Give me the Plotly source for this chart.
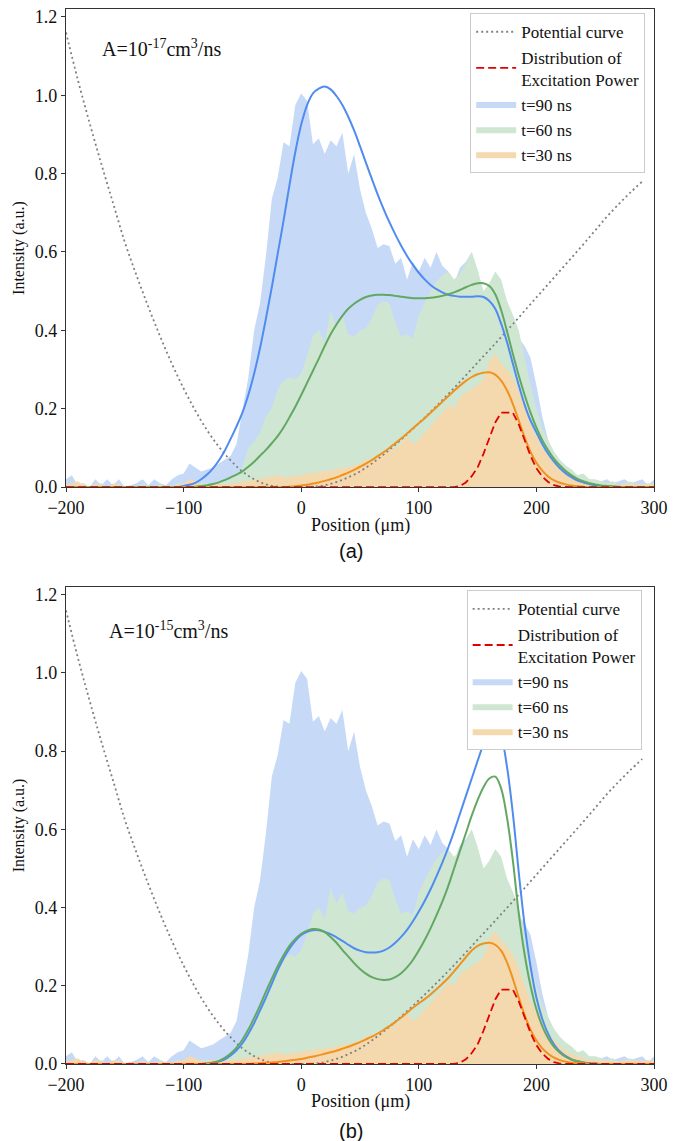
import plotly.graph_objects as go

# ---------------- data ----------------
POSITION = list(range(-200, 305, 5))  # sample positions (um)

# experimental intensity profiles (filled areas) - identical in both panels
EXP_T90 = [0.02, 0.03, 0.005, 0.01, 0.0, 0.02, 0.005, 0.02, 0.005, 0.02,
           0.0, 0.005, 0.01, 0.02, 0.005, 0.02, 0.01, 0.005, 0.02, 0.03,
           0.035, 0.06, 0.05, 0.04, 0.045, 0.05, 0.06, 0.07, 0.08, 0.11,
           0.19, 0.28, 0.40, 0.47, 0.59, 0.735, 0.79, 0.88, 0.87, 0.975,
           1.005, 0.985, 0.875, 0.89, 0.85, 0.885, 0.87, 0.905, 0.80, 0.85,
           0.76, 0.70, 0.66, 0.61, 0.62, 0.615, 0.57, 0.585, 0.53, 0.575,
           0.55, 0.585, 0.56, 0.60, 0.565, 0.55, 0.52, 0.56, 0.575, 0.60,
           0.55, 0.50, 0.50, 0.52, 0.48, 0.44, 0.41, 0.38, 0.36, 0.33,
           0.26, 0.18, 0.12, 0.08, 0.06, 0.05, 0.03, 0.02, 0.015, 0.02,
           0.01, 0.015, 0.02, 0.01, 0.015, 0.02, 0.01, 0.015, 0.02, 0.005,
           0.02]
EXP_T60 = [0.01, 0.0, 0.005, 0.01, 0.0, 0.005, 0.01, 0.0, 0.005, 0.01,
           0.0, 0.005, 0.0, 0.01, 0.005, 0.0, 0.01, 0.005, 0.0, 0.01,
           0.005, 0.01, 0.005, 0.01, 0.01, 0.01, 0.012, 0.015, 0.02, 0.035,
           0.05, 0.10, 0.115, 0.14, 0.18, 0.20, 0.25, 0.27, 0.28, 0.275,
           0.29, 0.335, 0.385, 0.40, 0.37, 0.45, 0.41, 0.44, 0.39, 0.385,
           0.40, 0.405, 0.43, 0.465, 0.475, 0.47, 0.42, 0.385, 0.39, 0.38,
           0.44, 0.47, 0.50, 0.525, 0.54, 0.55, 0.53, 0.545, 0.57, 0.60,
           0.555, 0.50, 0.52, 0.55, 0.53, 0.475, 0.44, 0.40, 0.33, 0.26,
           0.20, 0.15, 0.12, 0.09, 0.07, 0.055, 0.045, 0.03, 0.035, 0.02,
           0.02, 0.015, 0.01, 0.015, 0.005, 0.01, 0.015, 0.005, 0.01, 0.005,
           0.01]
EXP_T30 = [0.005, 0.01, 0.015, 0.005, 0.0, 0.01, 0.005, 0.0, 0.01, 0.005,
           0.0, 0.005, 0.0, 0.005, 0.0, 0.005, 0.0, 0.005, 0.0, 0.005,
           0.01, 0.02, 0.015, 0.005, 0.005, 0.01, 0.01, 0.005, 0.01, 0.01,
           0.015, 0.015, 0.02, 0.02, 0.025, 0.025, 0.03, 0.025, 0.025, 0.03,
           0.03, 0.035, 0.035, 0.04, 0.04, 0.041, 0.045, 0.05, 0.05, 0.055,
           0.06, 0.07, 0.07, 0.08, 0.085, 0.09, 0.10, 0.11, 0.13, 0.11,
           0.12, 0.14, 0.155, 0.176, 0.19, 0.21, 0.20, 0.23, 0.24, 0.25,
           0.26, 0.275, 0.32, 0.34, 0.315, 0.30, 0.28, 0.245, 0.20, 0.16,
           0.13, 0.10, 0.08, 0.06, 0.045, 0.035, 0.025, 0.02, 0.015, 0.01,
           0.01, 0.005, 0.01, 0.005, 0.005, 0.01, 0.005, 0.01, 0.005, 0.01,
           0.005]

# simulated curves, panel (a): A = 1e-17 cm^3/ns
FIT_T90_A = [0]*20 + [
    0.003, 0.006, 0.011, 0.02, 0.032, 0.048, 0.068, 0.093, 0.123, 0.155,
    0.19, 0.235, 0.29, 0.355, 0.43, 0.51, 0.595, 0.68, 0.77, 0.855,
    0.925, 0.975, 1.005, 1.017, 1.022, 1.015, 0.998, 0.975, 0.945, 0.91,
    0.87, 0.828, 0.787, 0.747, 0.71, 0.676, 0.645, 0.616, 0.59, 0.567,
    0.547, 0.53, 0.516, 0.505, 0.497, 0.491, 0.488, 0.486, 0.486, 0.486,
    0.487, 0.485, 0.475, 0.455, 0.417, 0.37, 0.315, 0.26, 0.21, 0.17,
    0.14, 0.11, 0.085, 0.065, 0.048, 0.035, 0.025, 0.017, 0.012, 0.008,
    0.005, 0.003, 0.002, 0.001] + [0]*7
FIT_T60_A = [0]*22 + [
    0.001, 0.003, 0.005, 0.008, 0.012, 0.018, 0.025, 0.032, 0.04, 0.052,
    0.065, 0.08, 0.095, 0.112, 0.13, 0.152, 0.178, 0.205, 0.235, 0.266,
    0.297, 0.328, 0.36, 0.39, 0.415, 0.437, 0.455, 0.468, 0.478, 0.485,
    0.489, 0.491, 0.491, 0.49, 0.488, 0.486, 0.484, 0.482, 0.482, 0.482,
    0.483, 0.485, 0.488, 0.492, 0.497, 0.503, 0.51, 0.516, 0.52, 0.52,
    0.513, 0.492, 0.452, 0.398, 0.34, 0.285, 0.235, 0.19, 0.152, 0.12,
    0.094, 0.072, 0.055, 0.041, 0.03, 0.021, 0.015, 0.01, 0.007, 0.004,
    0.003, 0.002, 0.001, 0, 0, 0, 0, 0, 0]
FIT_T30_A = [0]*38 + [
    0.001, 0.002, 0.004, 0.006, 0.009, 0.012, 0.016, 0.02, 0.025, 0.031,
    0.037, 0.044, 0.052, 0.06, 0.069, 0.079, 0.089, 0.10, 0.112, 0.124,
    0.137, 0.15, 0.163, 0.176, 0.19, 0.204, 0.218, 0.232, 0.246, 0.259,
    0.271, 0.281, 0.288, 0.292, 0.293, 0.287, 0.272, 0.247, 0.212, 0.17,
    0.127, 0.09, 0.062, 0.042, 0.027, 0.017, 0.011, 0.007, 0.004, 0.002,
    0.001, 0] + [0]*11

# simulated curves, panel (b): A = 1e-15 cm^3/ns
FIT_T90_B = [0]*24 + [
    0.001, 0.003, 0.006, 0.012, 0.022, 0.035, 0.053, 0.077, 0.105, 0.137,
    0.17, 0.205, 0.24, 0.27, 0.295, 0.315, 0.33, 0.338, 0.342, 0.342,
    0.338, 0.332, 0.324, 0.315, 0.305, 0.296, 0.29, 0.286, 0.285, 0.286,
    0.29, 0.298, 0.31, 0.325, 0.343, 0.365, 0.39, 0.417, 0.447, 0.48,
    0.515, 0.553, 0.595, 0.64, 0.685, 0.73, 0.775, 0.818, 0.852, 0.868,
    0.84, 0.76, 0.64, 0.49, 0.355, 0.25, 0.17, 0.115, 0.077, 0.05,
    0.032, 0.02, 0.012, 0.007, 0.004, 0.002, 0.001, 0, 0, 0,
    0, 0, 0, 0, 0, 0, 0]
FIT_T60_B = [0]*24 + [
    0.001, 0.004, 0.008, 0.016, 0.027, 0.042, 0.062, 0.088, 0.118, 0.15,
    0.185, 0.218, 0.25, 0.278, 0.302, 0.32, 0.333, 0.341, 0.345, 0.344,
    0.337, 0.325, 0.31, 0.292, 0.275, 0.258, 0.243, 0.231, 0.222, 0.217,
    0.215, 0.216, 0.222, 0.232, 0.247, 0.266, 0.29, 0.317, 0.347, 0.38,
    0.415, 0.455, 0.50, 0.545, 0.59, 0.635, 0.675, 0.708, 0.73, 0.735,
    0.705, 0.63, 0.52, 0.385, 0.28, 0.20, 0.14, 0.097, 0.066, 0.044,
    0.029, 0.018, 0.011, 0.007, 0.004, 0.002, 0.001, 0, 0, 0,
    0, 0, 0, 0, 0, 0, 0]
FIT_T30_B = [0]*32 + [
    0.001, 0.002, 0.003, 0.004, 0.005, 0.007, 0.009, 0.011, 0.013, 0.016,
    0.019, 0.022, 0.026, 0.03, 0.034, 0.039, 0.044, 0.05, 0.056, 0.063,
    0.07, 0.078, 0.087, 0.097, 0.107, 0.119, 0.131, 0.144, 0.155, 0.166,
    0.178, 0.191, 0.205, 0.22, 0.237, 0.255, 0.273, 0.29, 0.302, 0.308,
    0.31, 0.305, 0.29, 0.26, 0.218, 0.17, 0.125, 0.088, 0.06, 0.04,
    0.026, 0.016, 0.01, 0.006, 0.003, 0.002, 0.001, 0] + [0]*11

# excitation power distribution (same in both panels)
EXCITATION = [0]*66 + [
    0.0, 0.003, 0.012, 0.028, 0.05, 0.085, 0.125, 0.165, 0.19, 0.19,
    0.19, 0.16, 0.12, 0.08, 0.048, 0.027, 0.013, 0.005, 0.001, 0] + [0]*15

# potential curve
POT_X = [-200, -190, -180, -170, -160, -150, -140, -130, -120, -110,
         -100, -90, -80, -70, -60, -50, -40, -30, -20, -10,
         0, 10, 20, 30, 40, 50, 60, 70, 80, 90,
         100, 110, 120, 130, 140, 150, 160, 170, 180, 190,
         200, 210, 220, 230, 240, 250, 260, 270, 280, 290]
POT_Y = [1.16, 1.04, 0.93, 0.825, 0.725, 0.625, 0.54, 0.46, 0.385, 0.315,
         0.252, 0.195, 0.145, 0.103, 0.068, 0.04, 0.02, 0.007, 0.001, 0.0,
         0.0, 0.001, 0.005, 0.013, 0.025, 0.04, 0.06, 0.083, 0.108, 0.135,
         0.163, 0.192, 0.222, 0.253, 0.285, 0.318, 0.35, 0.383, 0.416, 0.45,
         0.484, 0.518, 0.552, 0.586, 0.62, 0.655, 0.69, 0.722, 0.752, 0.78]

X_TICKS = [-200, -100, 0, 100, 200, 300]
Y_TICKS = [0.0, 0.2, 0.4, 0.6, 0.8, 1.0, 1.2]
PANEL_LABELS = ["(a)", "(b)"]
A_LABELS = ["A=10<sup>-17</sup>cm<sup>3</sup>/ns", "A=10<sup>-15</sup>cm<sup>3</sup>/ns"]
X_TITLE = "Position (μm)"
Y_TITLE = "Intensity (a.u.)"

# ---------------- style ----------------
SERIF = "Liberation Serif"
FILL_COL = {"t90": "rgb(198,218,248)", "t60": "rgb(207,230,211)", "t30": "rgb(245,217,174)"}
LINE_COL = {"t90": "rgb(80,140,240)", "t60": "rgb(98,168,98)", "t30": "rgb(240,146,30)"}

fig = go.Figure()

panels = [
    ("x", "y", "legend", FIT_T90_A, FIT_T60_A, FIT_T30_A),
    ("x2", "y2", "legend2", FIT_T90_B, FIT_T60_B, FIT_T30_B),
]

for xa, ya, lg, f90, f60, f30 in panels:
    for key, data, name, rank in [("t90", EXP_T90, "t=90 ns", 3),
                                  ("t60", EXP_T60, "t=60 ns", 4),
                                  ("t30", EXP_T30, "t=30 ns", 5)]:
        fig.add_trace(go.Scatter(
            x=POSITION, y=data, mode="lines", fill="tozeroy",
            fillcolor=FILL_COL[key], line=dict(width=0, color=FILL_COL[key]),
            name=name, legend=lg, legendrank=rank, xaxis=xa, yaxis=ya,
            hoverinfo="skip"))
    fig.add_trace(go.Scatter(
        x=POT_X, y=POT_Y, mode="lines", line=dict(color="#808080", width=1.8, dash="2px,3px"),
        name="Potential curve", legend=lg, legendrank=1, xaxis=xa, yaxis=ya, line_shape="spline"))
    for key, data in [("t90", f90), ("t60", f60), ("t30", f30)]:
        fig.add_trace(go.Scatter(
            x=POSITION, y=data, mode="lines", line=dict(color=LINE_COL[key], width=2),
            line_shape="spline", showlegend=False, xaxis=xa, yaxis=ya))
    fig.add_trace(go.Scatter(
        x=POSITION, y=EXCITATION, mode="lines",
        line=dict(color="rgb(225,0,0)", width=1.8, dash="8px,4px"),
        name="Distribution of<br>Excitation Power", legend=lg, legendrank=2,
        xaxis=xa, yaxis=ya))

axis_common = dict(
    showline=True, mirror=True, linecolor="#333333", linewidth=1.2,
    ticks="outside", ticklen=4, tickwidth=1.2, tickcolor="#333333",
    showgrid=False, zeroline=False,
    tickfont=dict(family=SERIF, size=18, color="#111111"),
)

xcommon = dict(axis_common, range=[-200, 300], tickvals=X_TICKS)
ycommon = dict(axis_common, range=[0, 1.22], tickvals=Y_TICKS, tickformat=".1f",
               title=dict(text=Y_TITLE, font=dict(family=SERIF, size=16, color="#111111"), standoff=6))

legend_common = dict(
    font=dict(family=SERIF, size=17, color="#111111"),
    bgcolor="white", bordercolor="#cccccc", borderwidth=1,
    xanchor="right", yanchor="top", itemwidth=40, traceorder="normal",
)

fig.update_layout(
    width=684, height=1141,
    margin=dict(l=66, r=30, t=7, b=77),
    plot_bgcolor="white", paper_bgcolor="white",
    xaxis=dict(xcommon, anchor="y", domain=[0, 1]),
    yaxis=dict(ycommon, anchor="x", domain=[0.5468, 1.0]),
    xaxis2=dict(xcommon, anchor="y2", domain=[0, 1]),
    yaxis2=dict(ycommon, anchor="x2", domain=[0.0, 0.4522]),
    legend=dict(legend_common, x=0.985, y=0.996),
    legend2=dict(legend_common, x=0.979, y=0.449),
    showlegend=True,
)

# x-axis titles
for ypos in [0.5105, -0.0355]:
    fig.add_annotation(x=0.5, y=ypos, xref="paper", yref="paper", text=X_TITLE, showarrow=False,
                       xanchor="center", yanchor="middle", font=dict(family=SERIF, size=18, color="#111111"))

# "A=..." labels
fig.add_annotation(x=-171, y=1.12, xref="x", yref="y", text=A_LABELS[0], showarrow=False,
                   xanchor="left", yanchor="middle", font=dict(family=SERIF, size=20, color="#111111"))
fig.add_annotation(x=-165, y=1.11, xref="x2", yref="y2", text=A_LABELS[1], showarrow=False,
                   xanchor="left", yanchor="middle", font=dict(family=SERIF, size=20, color="#111111"))

# panel labels
fig.add_annotation(x=0.485, y=0.486, xref="paper", yref="paper", text=PANEL_LABELS[0], showarrow=False,
                   xanchor="center", yanchor="middle", font=dict(family="Liberation Sans", size=20, color="#111111"))
fig.add_annotation(x=0.485, y=-0.0635, xref="paper", yref="paper", text=PANEL_LABELS[1], showarrow=False,
                   xanchor="center", yanchor="middle", font=dict(family="Liberation Sans", size=20, color="#111111"))

fig.write_html("out.html")
